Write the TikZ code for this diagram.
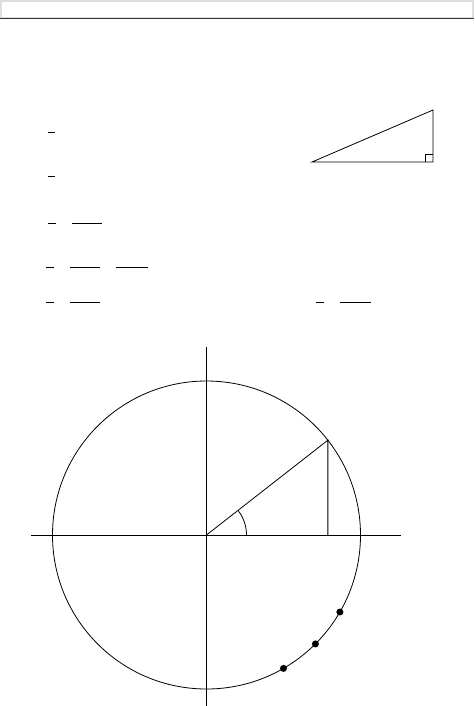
\documentclass[tikz,border=0pt]{standalone}
\usetikzlibrary{positioning,calc}

\tikzset{
    fracbar/.style={line width=0.9pt},
    unitline/.style={line width=0.8pt},
    ptdot/.style={circle, fill=black, inner sep=0pt, minimum size=7pt}
}

\begin{document}
\begin{tikzpicture}[x=1pt, y=-1pt, line width=0.8pt]
    \useasboundingbox (0,0) rectangle (474,706);

    % header strip
    \draw[black!13, line width=2pt] (1,1) rectangle (473,18);
    \draw[black!80, line width=1.4pt] (0,18.5) -- (474,18.5);

    % fraction bars of the formulas
    \draw[fracbar] (48,132) -- (55,132);
    \draw[fracbar] (48,176) -- (55,176);
    \draw[fracbar] (48,223) -- (56,223);
    \draw[fracbar] (72,223) -- (102,223);
    \draw[fracbar] (46,267) -- (54,267);
    \draw[fracbar] (70,267) -- (100,267);
    \draw[fracbar] (116,267) -- (148,267);
    \draw[fracbar] (46,302) -- (54,302);
    \draw[fracbar] (70,302) -- (100,302);
    \draw[fracbar] (316,302) -- (324,302);
    \draw[fracbar] (340,302) -- (371,302);

    % right triangle
    \coordinate (tA) at (312,162);
    \coordinate (tB) at (433,162);
    \coordinate (tC) at (433,110);
    \draw[unitline] (tA) -- (tB) -- (tC) -- cycle;
    \draw[line width=0.7pt] ($(tB)+(-8,0)$) -- ($(tB)+(-8,-8)$) -- ($(tB)+(0,-8)$);

    % unit circle
    \coordinate (O) at (206.5,535);
    \coordinate (xl) at (31,535);
    \coordinate (xr) at (401,535);
    \coordinate (yt) at (206.5,347);
    \coordinate (yb) at (206.5,706);
    \draw[unitline] (O) circle[radius=154];
    \draw[unitline] (xl) -- (xr);
    \draw[unitline] (yt) -- (yb);

    \coordinate (P) at ($(O)+(-38:154)$);
    \coordinate (Q) at (P |- O);
    \draw[unitline] (O) -- (P) -- (Q);
    \draw[unitline] ($(O)+(40,0)$) arc[start angle=0, end angle=-38, radius=40];

    % points on the arc
    \node[ptdot] (p1) at ($(O)+(30:154)$) {};
    \node[ptdot] (p2) at ($(O)+(45:154)$) {};
    \node[ptdot] (p3) at ($(O)+(60:154)$) {};
\end{tikzpicture}
\end{document}
